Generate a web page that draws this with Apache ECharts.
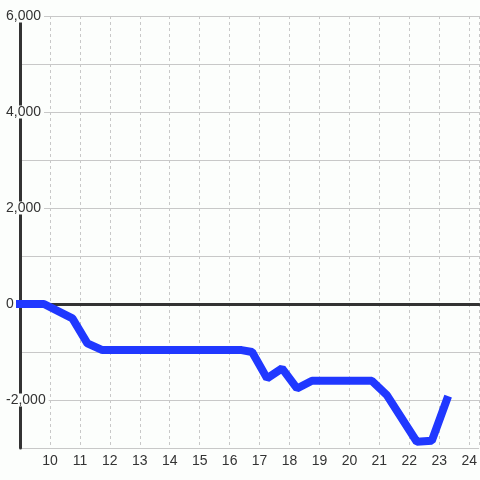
<!DOCTYPE html>
<html>
<head>
<meta charset="utf-8">
<script src="https://cdn.jsdelivr.net/npm/echarts@6/dist/echarts.min.js"></script>
<style>
  html, body { margin: 0; padding: 0; background: #fcfefc; }
  #main { width: 480px; height: 480px; }
</style>
</head>
<body>
<div id="main"></div>
<script>
// hours (x) and running value (y)
const xValues = [9, 9.8, 10.75, 11.25, 11.75, 16.4, 16.75, 17.25, 17.75, 18.25, 18.75, 20.75, 21.25, 22.25, 22.75, 23.25];
const yValues = [0, 0, -300, -820, -960, -960, -1000, -1550, -1340, -1760, -1600, -1600, -1900, -2870, -2850, -2000];

const bg = '#fcfefc';
const textColor = '#333';

var myChart = echarts.init(document.getElementById('main'));

const option = {
  backgroundColor: bg,
  animation: false,
  textStyle: {
    fontFamily: 'Liberation Sans'
  },
  grid: {
    left: 20,
    right: 0,
    top: 16,
    bottom: 32
  },
  xAxis: [
    {
      type: 'value',
      min: 9,
      max: 24.33,
      interval: 1,
      axisLine: { show: false, onZero: false },
      axisTick: { show: false },
      axisLabel: {
        color: textColor,
        fontSize: 14,
        margin: 6,
        showMinLabel: false,
        showMaxLabel: false
      },
      splitLine: {
        show: true,
        lineStyle: { color: '#c8c8c8', type: [3, 3], width: 1 }
      }
    },
    {
      // dark zero line
      type: 'value',
      min: 9,
      max: 24.33,
      position: 'bottom',
      axisLine: { show: true, onZero: true, lineStyle: { color: '#333', width: 3 } },
      axisTick: { show: false },
      axisLabel: { show: false },
      splitLine: { show: false }
    }
  ],
  yAxis: {
    type: 'value',
    min: -3000,
    max: 6000,
    interval: 1000,
    axisLine: { show: true, lineStyle: { color: '#333', width: 3 } },
    axisTick: { show: false },
    axisLabel: {
      color: textColor,
      fontSize: 14,
      align: 'left',
      margin: 15,
      backgroundColor: bg,
      padding: [0, 3, 0, 1],
      lineHeight: 13,
      formatter: function (v) {
        return v % 2000 === 0 ? v.toLocaleString('en-US') : '';
      }
    },
    splitLine: {
      show: true,
      lineStyle: { color: '#c8c8c8', width: 1 }
    }
  },
  series: [
    {
      type: 'line',
      xAxisIndex: 0,
      data: xValues.map((x, i) => [x, yValues[i]]),
      symbol: 'none',
      clip: false,
      lineStyle: {
        color: '#2038ff',
        width: 8,
        cap: 'square'
      }
    }
  ]
};

myChart.setOption(option);
</script>
</body>
</html>
